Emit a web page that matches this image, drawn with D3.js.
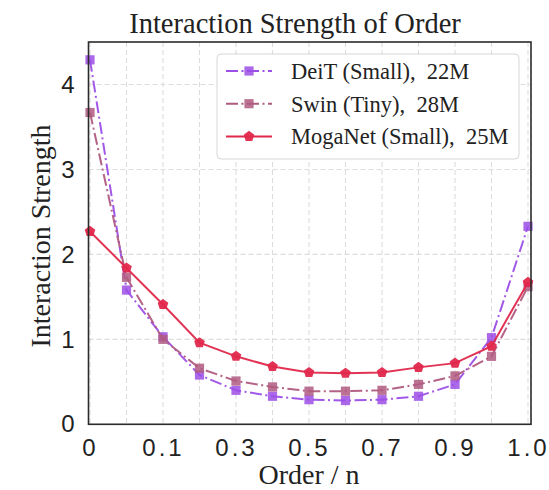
<!DOCTYPE html>
<html>
<head>
<meta charset="utf-8">
<script src="https://cdn.jsdelivr.net/npm/d3@7"></script>
<style>
  body { margin: 0; background: #fff; }
  svg { display: block; }
</style>
</head>
<body>
<script>
// values (13 orders, every other one labelled)
const orders = d3.range(13)
const xTickIdx = [0, 2, 4, 6, 8, 10, 12]
const xTickLabels = ["0", "0.1", "0.3", "0.5", "0.7", "0.9", "1.0"]
const yTicks = [0, 1, 2, 3, 4]

const seriesNames = ["DeiT (Small), 22M", "Swin (Tiny), 28M", "MogaNet (Small), 25M"]
const deit = [4.29, 1.58, 1.03, 0.58, 0.40, 0.33, 0.29, 0.28, 0.29, 0.33, 0.47, 1.02, 2.33]
const swin = [3.67, 1.73, 1.00, 0.66, 0.51, 0.44, 0.39, 0.39, 0.40, 0.47, 0.57, 0.80, 1.62]
const moga = [2.27, 1.84, 1.41, 0.96, 0.80, 0.68, 0.61, 0.60, 0.61, 0.67, 0.72, 0.92, 1.67]

const w = 549
const h = 490
const plotL = 88.5, plotR = 531, plotT = 42, plotB = 424.3

const colors = ["#9c4fe6", "#b05a80", "#e0284c"]
const dashes = ["12,3.5,2,3.5", "12,3.5,2,3.5", null]
const markers = ["square", "square", "pentagon"]
const allSeries = [deit, swin, moga]

const svg = d3.select("body")
    .append("svg")
    .attr("width", w)
    .attr("height", h)

const x = d3.scaleLinear().domain([0, 12]).range([90, 528])
const y = d3.scaleLinear().domain([0, 4.5]).range([plotB, plotT])

// grid
svg.append("g")
    .selectAll("line")
    .data(orders)
    .enter()
    .append("line")
    .attr("x1", d => x(d)).attr("x2", d => x(d))
    .attr("y1", plotT).attr("y2", plotB)
    .attr("stroke", "#dcdcdc").attr("stroke-width", 1.1)
    .attr("stroke-dasharray", "5,3")

svg.append("g")
    .selectAll("line")
    .data(yTicks)
    .enter()
    .append("line")
    .attr("x1", plotL).attr("x2", plotR)
    .attr("y1", d => y(d)).attr("y2", d => y(d))
    .attr("stroke", "#dcdcdc").attr("stroke-width", 1.1)
    .attr("stroke-dasharray", "5,3")

// axes labels
const xAxis = svg.append("g")
    .attr("transform", `translate(0,${plotB})`)
    .call(d3.axisBottom(x)
        .tickValues(xTickIdx)
        .tickFormat((d, i) => xTickLabels[i])
        .tickSize(0)
        .tickPadding(15))
xAxis.select(".domain").remove()
xAxis.selectAll("text")
    .style("font-family", "'Liberation Sans', Arial, sans-serif")
    .style("font-size", "24px")
    .style("letter-spacing", "3px")
    .attr("fill", "#222")

const yAxis = svg.append("g")
    .attr("transform", `translate(${plotL},0)`)
    .call(d3.axisLeft(y)
        .tickValues(yTicks)
        .tickFormat(d3.format("d"))
        .tickSize(0)
        .tickPadding(14))
yAxis.select(".domain").remove()
yAxis.selectAll("text")
    .style("font-family", "'Liberation Sans', Arial, sans-serif")
    .style("font-size", "24px")
    .attr("fill", "#222")

// pentagon path for MogaNet markers
function pentagon(r) {
    const pts = d3.range(5).map(i => {
        const a = -Math.PI / 2 + i * 2 * Math.PI / 5
        return [r * Math.cos(a), r * Math.sin(a)]
    })
    return "M" + pts.map(p => p.join(",")).join("L") + "Z"
}

function drawMarker(g, kind, color) {
    if (kind === "square") {
        g.append("rect")
            .attr("x", -4.6).attr("y", -4.6)
            .attr("width", 9.2).attr("height", 9.2)
            .attr("fill", color).attr("opacity", 0.85)
    } else {
        g.append("path")
            .attr("d", pentagon(5.6))
            .attr("fill", color).attr("opacity", 0.95)
    }
}

const line = d3.line()
    .x((d, i) => x(i))
    .y(d => y(d))

allSeries.forEach((vals, k) => {
    svg.append("path")
        .datum(vals)
        .attr("d", line)
        .attr("fill", "none")
        .attr("stroke", colors[k])
        .attr("stroke-width", 2)
        .attr("stroke-dasharray", dashes[k])
        .attr("opacity", 0.95)

    vals.forEach((v, i) => {
        const g = svg.append("g").attr("transform", `translate(${x(i)},${y(v)})`)
        drawMarker(g, markers[k], colors[k])
    })
})

// frame
svg.append("rect")
    .attr("x", plotL).attr("y", plotT)
    .attr("width", plotR - plotL).attr("height", plotB - plotT)
    .attr("fill", "none")
    .attr("stroke", "#2b2b2b")
    .attr("stroke-width", 1.6)

// legend
const legend = svg.append("g")
legend.append("rect")
    .attr("x", 217).attr("y", 54)
    .attr("width", 302).attr("height", 105)
    .attr("rx", 4)
    .attr("fill", "#fff")
    .attr("stroke", "#d6d6d6")
    .attr("stroke-width", 1)

seriesNames.forEach((name, k) => {
    const ly = 71 + k * 32.7
    legend.append("line")
        .attr("x1", 226).attr("x2", 272)
        .attr("y1", ly).attr("y2", ly)
        .attr("stroke", colors[k])
        .attr("stroke-width", 2)
        .attr("stroke-dasharray", dashes[k])
    const g = legend.append("g").attr("transform", `translate(249,${ly})`)
    drawMarker(g, markers[k], colors[k])
    legend.append("text")
        .attr("x", 291)
        .attr("y", ly + 8)
        .style("font-family", "'Liberation Serif', 'Times New Roman', serif")
        .style("font-size", "22.5px")
        .style("white-space", "pre")
        .attr("fill", "#222")
        .text(name.replace(", ", ",  "))
})

// titles
svg.append("text")
    .attr("x", 295)
    .attr("y", 33)
    .attr("text-anchor", "middle")
    .style("font-family", "'Liberation Serif', 'Times New Roman', serif")
    .style("font-size", "28.5px")
    .attr("fill", "#222")
    .text("Interaction Strength of Order")

svg.append("text")
    .attr("x", 309)
    .attr("y", 484)
    .attr("text-anchor", "middle")
    .style("font-family", "'Liberation Serif', 'Times New Roman', serif")
    .style("font-size", "28px")
    .attr("fill", "#222")
    .text("Order / n")

svg.append("text")
    .attr("transform", "translate(50,236) rotate(-90)")
    .attr("text-anchor", "middle")
    .style("font-family", "'Liberation Serif', 'Times New Roman', serif")
    .style("font-size", "28px")
    .attr("fill", "#222")
    .text("Interaction Strength")
</script>
</body>
</html>
